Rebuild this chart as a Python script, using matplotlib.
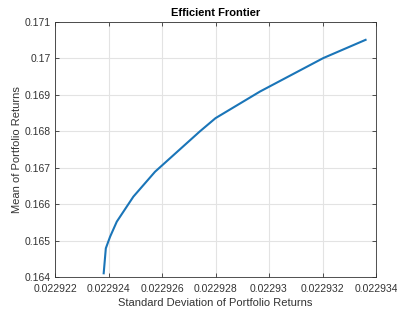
import matplotlib
matplotlib.use("Agg")
import matplotlib.pyplot as plt

# values
risk = [0.02292382, 0.0229239, 0.02292406, 0.02292431, 0.02292493, 0.02292574,
        0.02292742, 0.022928, 0.02292966, 0.02293203, 0.02293361]
ret = [0.164102, 0.164788, 0.165107, 0.16552, 0.166206, 0.16689,
       0.168, 0.16836, 0.16909, 0.17001, 0.17051]

xticks = [0.022922, 0.022924, 0.022926, 0.022928, 0.02293, 0.022932, 0.022934]
xlabels = ['0.022922', '0.022924', '0.022926', '0.022928', '0.02293', '0.022932', '0.022934']
yticks = [0.164, 0.165, 0.166, 0.167, 0.168, 0.169, 0.17, 0.171]
ylabels = ['0.164', '0.165', '0.166', '0.167', '0.168', '0.169', '0.17', '0.171']

plt.rcParams['font.family'] = ['Liberation Sans', 'DejaVu Sans']

fig = plt.figure(figsize=(3.97, 3.12), dpi=100)
ax = fig.add_axes([55/397, 1 - 277/312, (376-55)/397, (277-22)/312])

ax.plot(risk, ret, '-', color='#1a75b8', linewidth=1.5)

ax.set_xlim(xticks[0], xticks[-1])
ax.set_ylim(yticks[0], yticks[-1])
ax.set_xticks(xticks)
ax.set_xticklabels(xlabels)
ax.set_yticks(yticks)
ax.set_yticklabels(ylabels)

ax.grid(True, color='#e3e3e3', linewidth=0.8)
ax.set_axisbelow(True)
ax.tick_params(direction='in', top=True, right=True, length=3, width=0.6,
               colors='#333333', labelsize=7.5)
ax.tick_params(axis='x', pad=5)
ax.tick_params(axis='y', pad=3)
for s in ax.spines.values():
    s.set_color('#333333')
    s.set_linewidth(0.6)

ax.set_title('Efficient Frontier', fontsize=8, fontweight='bold', pad=4)
ax.set_xlabel('Standard Deviation of Portfolio Returns', fontsize=8, color='#333333', labelpad=3)
ax.set_ylabel('Mean of Portfolio Returns', fontsize=8, color='#333333', labelpad=2)

fig.savefig('out.png', dpi=100)
